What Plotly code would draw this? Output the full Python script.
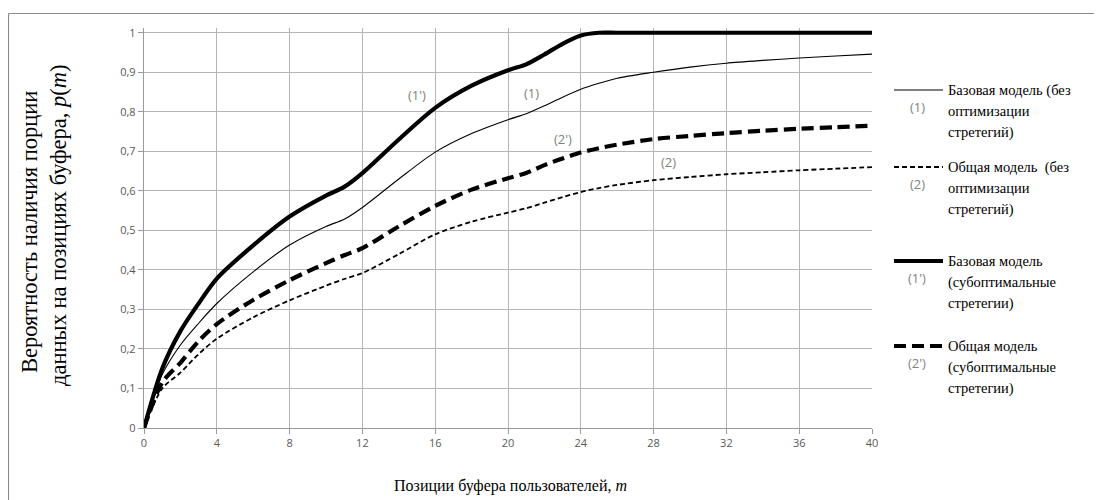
import plotly.graph_objects as go

# ---- data ----
m = [0, 1, 2, 3, 4, 6, 8, 10, 11, 12, 14, 16, 18, 20, 21, 22, 23, 24, 25, 26, 28, 30, 32, 34, 36, 38, 40]

base_sub = [0, 0.15, 0.245, 0.315, 0.378, 0.462, 0.535, 0.588, 0.61, 0.645, 0.73, 0.81, 0.866, 0.905,
            0.92, 0.945, 0.972, 0.993, 1.0, 1.0, 1.0, 1.0, 1.0, 1.0, 1.0, 1.0, 1.0]
base_plain = [0, 0.135, 0.21, 0.265, 0.315, 0.395, 0.463, 0.51, 0.528, 0.558, 0.63, 0.698, 0.745, 0.78,
              0.795, 0.815, 0.837, 0.857, 0.872, 0.885, 0.9, 0.913, 0.923, 0.93, 0.936, 0.941, 0.946]
gen_sub = [0, 0.115, 0.165, 0.22, 0.263, 0.324, 0.374, 0.417, 0.437, 0.455, 0.51, 0.562, 0.603, 0.632,
           0.645, 0.665, 0.682, 0.697, 0.708, 0.717, 0.731, 0.739, 0.746, 0.752, 0.757, 0.761, 0.765]
gen_plain = [0, 0.1, 0.14, 0.187, 0.226, 0.28, 0.323, 0.36, 0.377, 0.392, 0.44, 0.49, 0.522, 0.545,
             0.556, 0.57, 0.584, 0.597, 0.607, 0.615, 0.627, 0.635, 0.642, 0.647, 0.652, 0.656, 0.66]

x_ticks = [0, 4, 8, 12, 16, 20, 24, 28, 32, 36, 40]
y_ticks = [0, 0.1, 0.2, 0.3, 0.4, 0.5, 0.6, 0.7, 0.8, 0.9, 1.0]
y_tick_text = ["0", "0,1", "0,2", "0,3", "0,4", "0,5", "0,6", "0,7", "0,8", "0,9", "1"]

series_names = ["(1)", "(2)", "(1')", "(2')"]
legend_texts = [
    ["Базовая модель (без", "оптимизации", "стретегий)"],
    ["Общая модель  (без", "оптимизации", "стретегий)"],
    ["Базовая модель", "(субоптимальные", "стретегии)"],
    ["Общая модель", "(субоптимальные", "стретегии)"],
]
curve_label_pos = [(21.3, 0.848), (28.8, 0.673), (15.0, 0.842), (23.0, 0.732)]

# ---- layout geometry (page pixels; the page body has an 8px margin) ----
OFF = 8
W, H = 1102 - OFF, 500 - OFF
L, R, T, B = 144 - OFF, 1102 - 872, 28 - OFF, 500 - 428
PW, PH = W - L - R, H - T - B


def px(xp):
    return (xp - OFF - L) / PW


def py(yp):
    return (H - B - (yp - OFF)) / PH


styles = [
    dict(color="#000000", width=1.1, dash="solid"),
    dict(color="#000000", width=1.8, dash="5px,3px"),
    dict(color="#000000", width=4.2, dash="solid"),
    dict(color="#000000", width=4.2, dash="12px,6px"),
]
ys = [base_plain, gen_plain, base_sub, gen_sub]

fig = go.Figure()
for name, y, st in zip(series_names, ys, styles):
    fig.add_trace(go.Scatter(x=m, y=y, mode="lines", name=name,
                             line=dict(shape="spline", smoothing=0.8, **st),
                             showlegend=False, hoverinfo="skip"))

serif = "'Liberation Serif', 'Times New Roman', serif"
sans = "'Open Sans', sans-serif"
grey = "#7f7f7f"
annotations = []
shapes = []


def ann(x, y, text, size, family, color="#000000", xref="paper", yref="paper",
        xanchor="center", angle=0):
    annotations.append(dict(x=x, y=y, xref=xref, yref=yref, text=text, showarrow=False,
                            xanchor=xanchor, yanchor="middle", textangle=angle,
                            font=dict(family=family, size=size, color=color)))


# curve labels
for name, (cx, cy) in zip(series_names, curve_label_pos):
    ann(cx, cy, name, 13, sans, grey, xref="x", yref="y")

# custom legend
legend_tops = [90, 167, 261, 346]
for i, (top, lines) in enumerate(zip(legend_tops, legend_texts)):
    st = styles[i]
    shapes.append(dict(type="line", xref="paper", yref="paper", x0=px(894), x1=px(943),
                       y0=py(top), y1=py(top), layer="above",
                       line=dict(color=st["color"], width=st["width"], dash=st["dash"])))
    ann(px(917), py(top + 17), series_names[i], 13, sans, grey)
    for j, t in enumerate(lines):
        ann(px(946), py(top + j * 21), t, 14.5, serif, xanchor="left")

# axis titles
ann(px(29), py(232), "Вероятность наличия порции", 22.5, serif, angle=-90)
ann(px(58), py(225), "данных на позициях буфера, <i>p</i>(<i>m</i>)", 22.5, serif, angle=-90)
ann(px(510), py(486), "Позиции буфера пользователей, <i>m</i>", 16, serif)

# outer frame (top and left edges visible in the reference)
shapes.append(dict(type="line", xref="paper", yref="paper", x0=px(8.5), x1=px(1102),
                   y0=py(13.5), y1=py(13.5), layer="above", line=dict(color="#8c8c8c", width=1.2)))
shapes.append(dict(type="line", xref="paper", yref="paper", x0=px(8.5), x1=px(8.5),
                   y0=py(13.5), y1=py(500), layer="above", line=dict(color="#8c8c8c", width=1.2)))

fig.update_layout(
    width=W, height=H,
    margin=dict(l=L, r=R, t=T, b=B),
    paper_bgcolor="white", plot_bgcolor="white",
    annotations=annotations, shapes=shapes,
    xaxis=dict(range=[0, 40], tickvals=x_ticks, ticktext=[str(v) for v in x_ticks],
               showgrid=True, gridcolor="#b5b5b5", gridwidth=1.3,
               showline=True, linecolor="#9a9a9a", linewidth=1.3,
               ticks="outside", ticklen=5, tickcolor="#9a9a9a",
               tickfont=dict(family=sans, size=11, color="#595959"),
               zeroline=False, fixedrange=True),
    yaxis=dict(range=[0, 1.012], tickvals=y_ticks, ticktext=y_tick_text,
               showgrid=True, gridcolor="#b5b5b5", gridwidth=1.3,
               showline=True, linecolor="#9a9a9a", linewidth=1.3,
               ticks="outside", ticklen=5, tickcolor="#9a9a9a",
               tickfont=dict(family=sans, size=11, color="#595959"),
               zeroline=False, fixedrange=True),
)

fig.write_html("out.html")
